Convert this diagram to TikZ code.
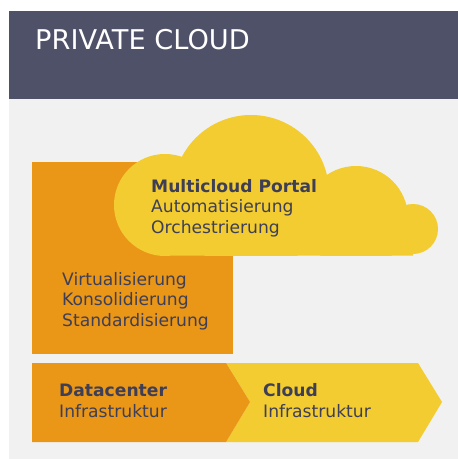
\documentclass[tikz,border=0pt]{standalone}
\usepackage{fontspec}
\setmainfont{DejaVu Sans}
\definecolor{headblue}{RGB}{79,81,105}
\definecolor{panelgray}{RGB}{241,241,241}
\definecolor{dcorange}{RGB}{234,150,22}
\definecolor{cloudyellow}{RGB}{242,204,48}
\definecolor{txtgray}{RGB}{62,63,86}
\tikzset{
  bodytxt/.style={text=txtgray, font=\fontsize{17.2}{20.5}\selectfont, inner sep=0pt, anchor=base west, align=left},
}
\begin{document}
\begin{tikzpicture}[x=1bp,y=-1bp]
  \useasboundingbox (0,0) rectangle (458,459);
  \fill[panelgray] (9,99) rectangle (458,459);
  \fill[headblue] (9,11) rectangle (458,99);
  \node[anchor=base west, text=white, inner sep=0pt, font=\fontsize{27.3}{30}\selectfont] (title) at (35,50) {PRIVATE CLOUD};

  % unterer Block
  \fill[dcorange] (32,162) rectangle (233,354);

  % Wolke
  \begin{scope}
    \clip (100,100) rectangle (450,255.5);
    \fill[cloudyellow] (165,205) circle (51bp) (251,193) circle (78bp) (356,218) circle (52bp) (413,229) circle (25bp)
      (165,205) rectangle (413,255.5);
  \end{scope}

  \coordinate (DCtl) at (32,363);
  \coordinate (DCbl) at (32,442);
  \coordinate (DCtr) at (226,363);
  \coordinate (DCbr) at (226,442);
  \coordinate (DCtip) at (250,402);
  \coordinate (CLtr) at (418,363);
  \coordinate (CLbr) at (418,442);
  \coordinate (CLtip) at (442,402);

  \fill[cloudyellow] (DCtr) -- (CLtr) -- (CLtip) -- (CLbr) -- (DCbr) -- (DCtip) -- cycle;
  \fill[dcorange] (DCtl) -- (DCtr) -- (DCtip) -- (DCbr) -- (DCbl) -- cycle;

  % Texte (base = letzte Zeile)
  \node[bodytxt] (portal) at (151,233.3) {\textbf{Multicloud Portal}\\Automatisierung\\Orchestrierung};
  \node[bodytxt] (virt) at (62,326) {Virtualisierung\\Konsolidierung\\Standardisierung};
  \node[bodytxt] (dc) at (59,417.3) {\textbf{Datacenter}\\Infrastruktur};
  \node[bodytxt] (cl) at (263,417.3) {\textbf{Cloud}\\Infrastruktur};
\end{tikzpicture}
\end{document}
